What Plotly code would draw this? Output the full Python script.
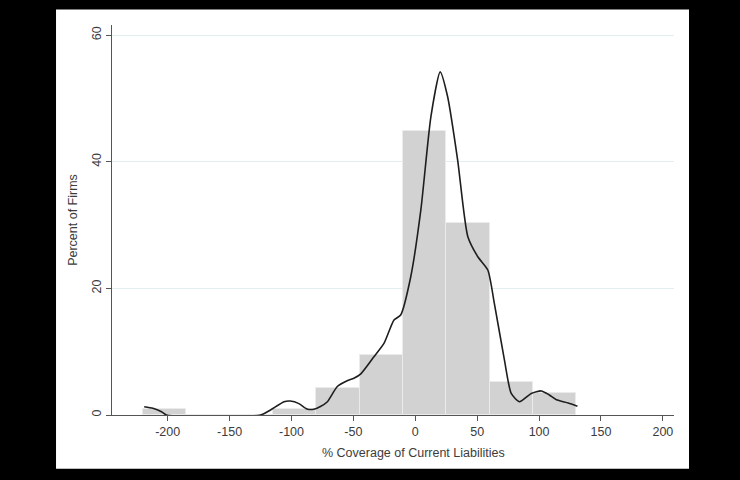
import plotly.graph_objects as go

# Histogram bins (left edges, width 35) and percent of firms
bin_left = [-220, -185, -150, -115, -80, -45, -10, 25, 60, 95]
bin_pct = [1.0, 0.0, 0.0, 1.0, 4.3, 9.5, 44.9, 30.4, 5.2, 3.4]
bin_width = 35

# Kernel density curve (scaled to percent)
dens_x = [-219, -212, -205, -201, -125, -117, -106, -101, -94, -87.5, -82, -77,
          -71, -63, -55, -49.6, -44, -33.4, -25.3, -17.2, -11.8, -3.7, 4.5, 12.6,
          20.1, 26.1, 34.2, 42.4, 50.5, 58.6, 63.9, 72.0, 77.5, 84.2, 93.7, 101.8,
          108, 114, 123.5, 131]
dens_y = [1.3, 1.05, 0.5, 0.0, 0.0, 0.8, 2.1, 2.2, 1.8, 0.95, 0.9, 1.3,
          2.1, 4.5, 5.4, 5.8, 6.5, 9.2, 11.3, 15.0, 15.8, 21.8, 32.4, 47.1,
          54.2, 50.3, 40.3, 28.2, 25.0, 22.9, 17.6, 8.7, 3.4, 2.1, 3.4, 3.8,
          3.2, 2.4, 1.9, 1.4]

x_ticks = [-200, -150, -100, -50, 0, 50, 100, 150, 200]
x_tick_labels = ["-200", "-150", "-100", "-50", "0", "50", "100", "150", "200"]
y_ticks = [0, 20, 40, 60]
y_tick_labels = ["0", "20", "40", "60"]
x_title = "% Coverage of Current Liabilities"
y_title = "Percent of Firms"

centers = [b + bin_width / 2 for b in bin_left]

fig = go.Figure()
fig.add_trace(go.Bar(
    x=centers, y=bin_pct, width=[bin_width] * len(centers),
    marker=dict(color="#d2d2d2", line=dict(color="#ebebeb", width=1)),
    showlegend=False, hoverinfo="skip"))
fig.add_trace(go.Scatter(
    x=dens_x, y=dens_y, mode="lines",
    line=dict(color="#1e1e1e", width=1.6, shape="spline", smoothing=0.6),
    showlegend=False, hoverinfo="skip"))

font = dict(family="Liberation Sans, Arial, sans-serif", size=12.5, color="#3c3c3c")
title_font = dict(family="Liberation Sans, Arial, sans-serif", size=12.5, color="#3c3c3c")

fig.update_layout(
    width=740, height=480,
    margin=dict(l=112, r=66, t=25, b=65),
    paper_bgcolor="black", plot_bgcolor="white",
    font=font, bargap=0,
    shapes=[dict(type="rect", xref="paper", yref="paper",
                 x0=-0.0996, x1=1.0267, y0=-0.138, y1=1.0397,
                 fillcolor="white", line=dict(width=0), layer="below")],
    annotations=[dict(text=x_title, xref="paper", yref="paper", x=0.5, y=-0.0974,
                      xanchor="center", yanchor="middle", xshift=20,
                      showarrow=False, font=title_font)],
    xaxis=dict(range=[-245, 209], tickvals=x_ticks, ticktext=x_tick_labels,
               ticks="outside", ticklen=5,
               tickcolor="#555", showline=True, linecolor="#555", linewidth=1,
               showgrid=False, zeroline=False),
    yaxis=dict(range=[0, 61.6], tickvals=y_ticks, ticktext=y_tick_labels,
               ticks="outside", ticklen=5,
               tickcolor="#555", showline=True, linecolor="#555", linewidth=1,
               tickangle=-90, showgrid=True, gridcolor="#e3eef0", gridwidth=1,
               zeroline=False,
               title=dict(text=y_title, standoff=9, font=title_font)),
)

fig.write_html(
    "out.html",
    config={"displayModeBar": False},
    post_script="document.body.style.margin='0';document.body.style.background='black';"
)
